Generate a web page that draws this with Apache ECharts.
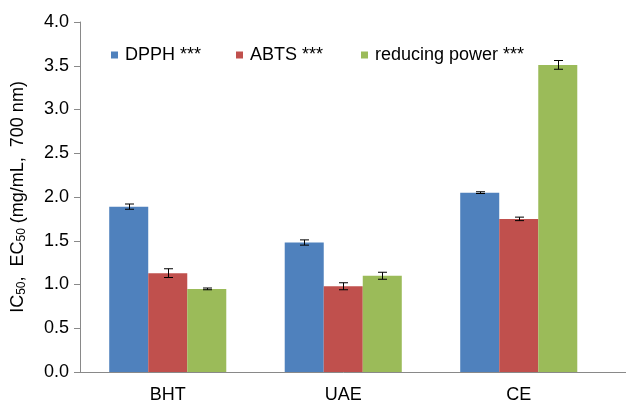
<!DOCTYPE html>
<html>
<head>
<meta charset="utf-8">
<script src="https://cdn.jsdelivr.net/npm/echarts@6/dist/echarts.min.js"></script>
<style>
  html, body { margin: 0; padding: 0; background: #fff; }
  #chart { width: 626px; height: 405px; }
</style>
</head>
<body>
<div id="chart"></div>
<script>
const categories = ['BHT', 'UAE', 'CE'];
const dpph = [1.89, 1.48, 2.05];
const dpphErr = [0.03, 0.03, 0.01];
const abts = [1.13, 0.98, 1.75];
const abtsErr = [0.05, 0.04, 0.02];
const reducing = [0.95, 1.10, 3.51];
const reducingErr = [0.01, 0.04, 0.05];

const FONT = '"Liberation Sans", Arial, sans-serif';
const GAP = 0.333;
const colors = ['#4F81BD', '#C0504D', '#9BBB59'];

// error bars drawn as I-beams over the grouped bars
function errorSeries(idx, vals, errs) {
  return {
    type: 'custom',
    z: 10,
    silent: true,
    data: vals.map((v, i) => [i, v, errs[i]]),
    renderItem: (params, api) => {
      const x = api.value(0);
      const v = api.value(1);
      const e = api.value(2);
      const hi = api.coord([x, v + e]);
      const lo = api.coord([x, v - e]);
      const band = api.size([1, 0])[0];
      const bw = band * (1 - GAP) / 3;
      const cx = Math.round(hi[0] + (idx - 1) * bw) + 0.5;
      const half = 4.5;
      const style = { stroke: '#000', lineWidth: 1 };
      return {
        type: 'group',
        children: [
          { type: 'line', shape: { x1: cx, y1: hi[1], x2: cx, y2: lo[1] }, style },
          { type: 'line', shape: { x1: cx - half, y1: hi[1], x2: cx + half, y2: hi[1] }, style },
          { type: 'line', shape: { x1: cx - half, y1: lo[1], x2: cx + half, y2: lo[1] }, style }
        ]
      };
    }
  };
}

function legendAt(name, left) {
  return {
    data: [name],
    left: left,
    top: 41,
    icon: 'rect',
    itemWidth: 7,
    itemHeight: 7,
    textStyle: { fontFamily: FONT, fontSize: 18, color: '#000', padding: [0, 0, 0, 2] }
  };
}

const chart = echarts.init(document.getElementById('chart'), null, { renderer: 'canvas' });
chart.setOption({
  animation: false,
  color: colors,
  grid: { left: 80, right: 19.5, top: 22, bottom: 33 },
  legend: [
    legendAt('DPPH ***', 106),
    legendAt('ABTS ***', 231),
    legendAt('reducing power ***', 356)
  ],
  graphic: [
    { type: 'line', shape: { x1: 606, y1: 372.5, x2: 626, y2: 372.5 }, style: { stroke: '#898989', lineWidth: 1 } }
  ],
  xAxis: {
    type: 'category',
    data: categories,
    axisLine: { lineStyle: { color: '#898989' } },
    axisTick: { length: 6, lineStyle: { color: '#898989' } },
    axisLabel: { fontFamily: FONT, fontSize: 18, color: '#000', margin: 14 }
  },
  yAxis: {
    type: 'value',
    min: 0,
    max: 4,
    interval: 0.5,
    name: '{n|IC}{s|50}{n|,  EC}{s|50}{n| (mg/mL,  700 nm)}',
    nameLocation: 'middle',
    nameGap: 52,
    nameTextStyle: {
      fontFamily: FONT,
      fontSize: 18,
      color: '#000',
      rich: {
        n: { fontFamily: FONT, fontSize: 18, color: '#000', lineHeight: 20 },
        s: { fontFamily: FONT, fontSize: 12, color: '#000', lineHeight: 20, verticalAlign: 'bottom' }
      }
    },
    axisLine: { show: true, lineStyle: { color: '#898989' } },
    axisTick: { show: true, length: 6, lineStyle: { color: '#898989' } },
    splitLine: { show: false },
    axisLabel: {
      fontFamily: FONT,
      fontSize: 18,
      color: '#000',
      margin: 11,
      formatter: (v) => v.toFixed(1)
    }
  },
  series: [
    { name: 'DPPH ***', type: 'bar', data: dpph, barGap: 0, barCategoryGap: (GAP * 100) + '%' },
    { name: 'ABTS ***', type: 'bar', data: abts, barGap: 0, barCategoryGap: (GAP * 100) + '%' },
    { name: 'reducing power ***', type: 'bar', data: reducing, barGap: 0, barCategoryGap: (GAP * 100) + '%' },
    errorSeries(0, dpph, dpphErr),
    errorSeries(1, abts, abtsErr),
    errorSeries(2, reducing, reducingErr)
  ]
});
</script>
</body>
</html>
